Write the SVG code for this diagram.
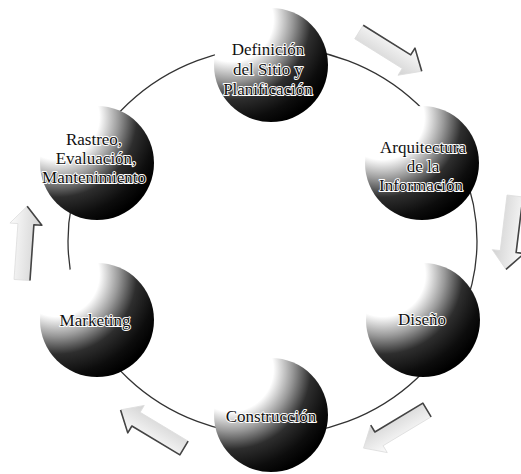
<svg xmlns="http://www.w3.org/2000/svg" width="521" height="474" viewBox="0 0 521 474">
<style>
.ring{fill:none;stroke:#333;stroke-width:1.3}
.ball{fill:url(#sph)}
.lbl{font-family:"Liberation Serif","Times New Roman",serif;font-size:17px;fill:#111;text-anchor:middle;stroke:#fff;stroke-width:1.8px;stroke-linejoin:round;paint-order:stroke}
.arr{fill:url(#ag);stroke:#ddd;stroke-width:0.8}
.sh{fill:none;stroke:#444;stroke-width:1.6;stroke-linejoin:round}
</style>
<defs>
<radialGradient id="sph" cx="0.15" cy="0.1" r="1">
<stop offset="0" stop-color="#fff"/>
<stop offset="0.37" stop-color="#fff"/>
<stop offset="0.54" stop-color="#999"/>
<stop offset="0.7" stop-color="#2e2e2e"/>
<stop offset="0.88" stop-color="#0d0d0d"/>
<stop offset="1" stop-color="#000"/>
</radialGradient>
<linearGradient id="ag" x1="0" y1="0" x2="0" y2="1">
<stop offset="0" stop-color="#fcfcfc"/>
<stop offset="1" stop-color="#d2d2d2"/>
</linearGradient>
<path id="ap" d="M0,-8 H56 V-16 L74,0 L56,16 V8 H0 Z"/>
</defs>
<rect width="521" height="474" fill="#fff"/>
<g id="connectors">
<ellipse class="ring" cx="272.5" cy="241" rx="204.5" ry="194"/>
<g id="arrow-top-right" transform="translate(359,32) rotate(32)">
<use href="#ap" class="arr"/>
<polyline class="sh" points="0,-8 56,-8 56,-16 74,0"/>
</g>
<g id="arrow-right" transform="translate(515,196) rotate(97)">
<use href="#ap" class="arr"/>
<polyline class="sh" points="0,-8 56,-8 56,-16 74,0"/>
</g>
<g id="arrow-bottom-right" transform="translate(427,410) rotate(149)">
<use href="#ap" class="arr"/>
<polyline class="sh" points="0,-8 0,8 56,8 56,16"/>
</g>
<g id="arrow-bottom-left" transform="translate(184,448) rotate(211)">
<use href="#ap" class="arr"/>
<polyline class="sh" points="0,8 0,-8 56,-8 56,-16 74,0"/>
</g>
<g id="arrow-left" transform="translate(22,280) rotate(-86)">
<use href="#ap" class="arr"/>
<polyline class="sh" points="0,8 56,8 56,16 74,0"/>
</g>
</g>
<g id="node-definicion">
<circle class="ball" cx="271" cy="65" r="57"/>
<text class="lbl" x="268" y="55">Definición</text>
<text class="lbl" x="268" y="75">del Sitio y</text>
<text class="lbl" x="268" y="95">Planificación</text>
</g>
<g id="node-arquitectura">
<circle class="ball" cx="422" cy="163" r="57"/>
<text class="lbl" x="423" y="153">Arquitectura</text>
<text class="lbl" x="423" y="172">de la</text>
<text class="lbl" x="421" y="191">Información</text>
</g>
<g id="node-diseno">
<circle class="ball" cx="423" cy="320" r="57"/>
<text class="lbl" x="422" y="325">Diseño</text>
</g>
<g id="node-construccion">
<circle class="ball" cx="271" cy="415" r="57"/>
<text class="lbl" x="271" y="422">Construcción</text>
</g>
<g id="node-marketing">
<circle class="ball" cx="97" cy="320" r="57"/>
<text class="lbl" x="95" y="326">Marketing</text>
</g>
<g id="node-rastreo">
<circle class="ball" cx="97" cy="163" r="57"/>
<text class="lbl" x="94" y="145">Rastreo,</text>
<text class="lbl" x="96" y="164">Evaluación,</text>
<text class="lbl" x="94" y="183">Mantenimiento</text>
</g>
</svg>
